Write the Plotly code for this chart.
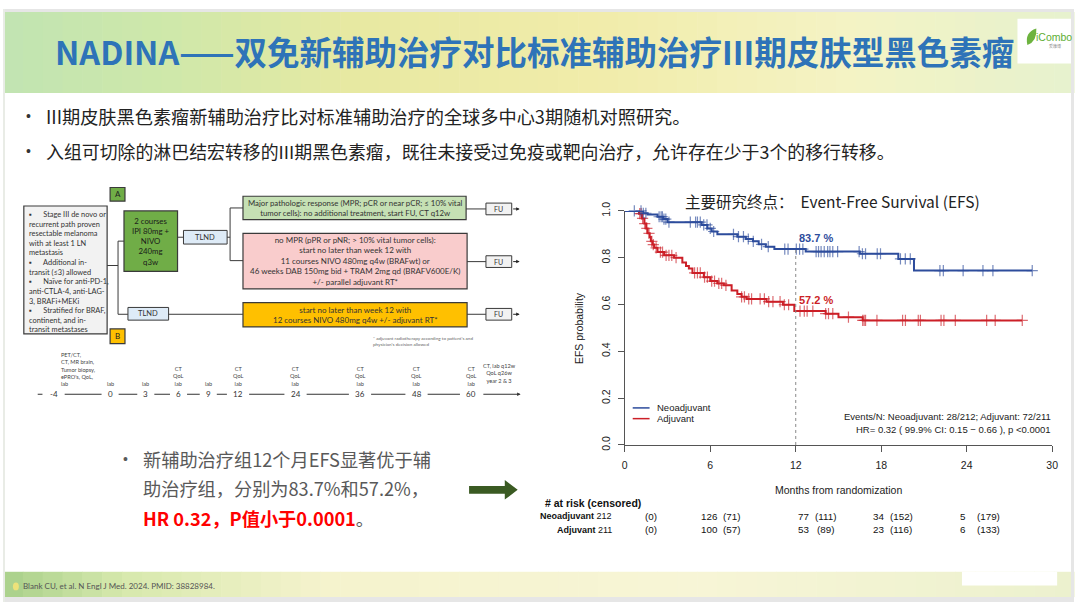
import numpy as np
import plotly.graph_objects as go

W, H = 1080, 608

# ---------------- data ----------------
months_ticks = [0, 6, 12, 18, 24, 30]
efs_ticks = [0.0, 0.2, 0.4, 0.6, 0.8, 1.0]

neo_event_months = [0, 1.3, 1.6, 2.3, 2.7, 3.0, 5.4, 5.8, 6.1, 6.5, 7.9, 8.5, 9.0, 9.4, 9.9, 10.5, 12.7, 16.5, 19.2, 20.3]
neo_efs = [1.0, 0.99, 0.985, 0.975, 0.965, 0.952, 0.94, 0.925, 0.912, 0.9, 0.89, 0.88, 0.87, 0.857, 0.847, 0.837, 0.826, 0.817, 0.795, 0.745]
neo_last_followup = 28.6
neo_censor_months = [0.67, 1.14, 1.3, 1.48, 2.41, 2.55, 2.64, 2.75, 2.88, 3.1, 4.6, 4.97, 5.1, 5.3, 5.54, 5.77,
                     6.0, 6.24, 7.63, 7.98, 8.33, 8.67, 9.02, 9.6, 10.07, 11.23, 11.46, 12.04, 12.27, 12.5, 13.43,
                     13.6, 13.78, 14.0, 14.24, 14.4, 14.6, 14.94, 16.45, 16.68, 16.9, 17.72, 17.95, 19.35, 19.69,
                     20.04, 22.12, 22.36, 23.75, 25.14, 25.84, 28.6]

adj_event_months = [0, 1.0, 1.2, 1.37, 1.5, 1.6, 1.75, 1.83, 1.95, 2.06, 2.3, 2.76, 3.46, 4.04, 4.3, 4.5, 4.75,
                    5.55, 6.0, 6.5, 6.95, 7.5, 7.9, 8.2, 8.56, 9.95, 11.1, 11.9, 14.1, 15.0, 16.7]
adj_efs = [1.0, 0.988, 0.968, 0.946, 0.925, 0.904, 0.888, 0.87, 0.856, 0.842, 0.824, 0.81, 0.80, 0.779, 0.765,
           0.754, 0.735, 0.717, 0.70, 0.69, 0.682, 0.66, 0.645, 0.633, 0.624, 0.612, 0.599, 0.572, 0.561, 0.546, 0.532]
adj_last_followup = 27.9
adj_censor_months = [1.05, 1.15, 1.25, 1.4, 1.55, 1.7, 1.9, 2.0, 2.2, 2.5, 2.65, 2.9, 3.1, 3.3, 3.6, 4.9, 5.1, 5.3,
                     5.6, 5.8, 6.1, 6.3, 6.6, 6.8, 7.1, 8.2, 8.4, 8.7, 8.9, 9.5, 9.8, 10.1, 10.4, 10.9, 11.2, 11.5,
                     12.3, 12.6, 12.8, 13.2, 14.1, 14.3, 14.6, 15.7, 16.7, 16.8, 16.9, 17.7, 19.5, 19.7, 20.6,
                     20.75, 22.2, 22.4, 23.2, 25.4, 26.0, 27.9]

landmark_month = 12
landmark_neo = 0.837
landmark_adj = 0.572
landmark_labels = ["83.7 %", "57.2 %"]

risk_n_neo = [212, 126, 77, 34, 5]
risk_c_neo = [0, 71, 111, 152, 179]
risk_n_adj = [211, 100, 53, 23, 6]
risk_c_adj = [0, 57, 89, 116, 133]

timeline_weeks = ["-4", "0", "3", "6", "9", "12", "24", "36", "48", "60"]
timeline_notes = ["", "lab", "lab", "CT<br>QoL<br>lab", "lab", "CT<br>QoL<br>lab", "CT<br>QoL<br>lab",
                  "CT<br>QoL<br>lab", "CT<br>QoL<br>lab", "CT<br>QoL<br>lab"]

# ---------------- styles ----------------
BLUE = "#2D4C9C"
RED = "#CC1F27"
CJK = "Noto Sans CJK SC"
ARIAL = "Liberation Sans"
LATO = "Lato"

shapes, ann = [], []


def X(x):
    return x / W


def Y(y):
    return 1 - y / H


def R(x0, y0, x1, y1, fill, line=None, lw=1, layer="above"):
    shapes.append(dict(type="rect", xref="paper", yref="paper", x0=X(x0), x1=X(x1), y0=Y(y1), y1=Y(y0),
                       fillcolor=fill, line=dict(color=line or fill, width=lw if line else 0), layer=layer))


def L(x0, y0, x1, y1, color="#404040", w=1, dash=None):
    shapes.append(dict(type="line", xref="paper", yref="paper", x0=X(x0), x1=X(x1), y0=Y(y0), y1=Y(y1),
                       line=dict(color=color, width=w, dash=dash)))


def T(x, y, s, size, color="#222", xa="center", ya="middle", fam=LATO, align=None):
    ann.append(dict(x=X(x), y=Y(y), xref="paper", yref="paper", text=s, showarrow=False, xanchor=xa,
                    yanchor=ya, font=dict(size=size, color=color, family=fam), align=align or xa,
                    borderpad=0))


def ARW(x0, y, x1, color="#222"):
    ann.append(dict(x=X(x1), y=Y(y), xref="paper", yref="paper", ax=x0 - x1, ay=0, text="", showarrow=True,
                    arrowhead=2, arrowsize=0.7, arrowwidth=1, arrowcolor=color))


def lerp(stops, x):
    for (p0, c0), (p1, c1) in zip(stops[:-1], stops[1:]):
        if p0 <= x <= p1:
            t = (x - p0) / (p1 - p0)
            return "rgb(%d,%d,%d)" % tuple(round(a + (b - a) * t) for a, b in zip(c0, c1))
    return "rgb(%d,%d,%d)" % stops[-1][1]


def grad(x0, x1, y0, y1, stops, n=54):
    step = (x1 - x0) / n
    for i in range(n):
        xa = x0 + i * step
        R(xa, y0, xa + step + 0.6, y1, lerp(stops, xa + step / 2), layer="below")


# ---------------- slide background ----------------
R(0, 0, W, H, "white", layer="below")
grad(0, W, 3, 86, [(0, (193, 228, 178)), (160, (206, 232, 170)), (360, (232, 233, 162)),
                    (600, (241, 236, 170)), (850, (244, 243, 196)), (1080, (230, 242, 206))])
grad(0, W, 577, 603, [(0, (168, 208, 138)), (120, (214, 232, 172)), (320, (245, 243, 205)),
                       (700, (247, 245, 214)), (1080, (236, 241, 206))])
R(967, 577, 1063, 591, "white", layer="below")
R(0, 0, W, 3, "#E6E6E6", layer="below")
R(0, 603, W, H, "#E6E6E6", layer="below")
R(0, 0, 2, H, "#E9ECE6", layer="below")
R(1077, 0, W, H, "#E6E6E6", layer="below")
shapes.append(dict(type="circle", xref="paper", yref="paper", x0=X(10), x1=X(16), y0=Y(596), y1=Y(588),
                   fillcolor="#EDE27A", line=dict(width=0)))

# logo
R(1023, 10, 1077, 56, "white")
shapes.append(dict(type="path", xref="paper", yref="paper",
                   path="M %f,%f Q %f,%f %f,%f Q %f,%f %f,%f Z" % (
                       X(1033), Y(37), X(1030), Y(24), X(1042), Y(20), X(1043), Y(33), X(1033), Y(37)),
                   fillcolor="#6DB33F", line=dict(width=0)))
T(1060, 29, "iCombo", 10.5, "#5DAE34", fam=ARIAL)
T(1061, 38, "爱康博", 4, "#888", fam=CJK)

# header title
T(536, 43, "<b>NADINA——双免新辅助治疗对比标准辅助治疗III期皮肤型黑色素瘤</b>", 32.5, "#2E73B8", fam=CJK)

# top bullets
T(22, 110, "•", 14, "#333", xa="left", fam=ARIAL)
T(42, 110, "III期皮肤黑色素瘤新辅助治疗比对标准辅助治疗的全球多中心3期随机对照研究。", 18.2, "#222", xa="left", fam=CJK)
T(22, 146, "•", 14, "#333", xa="left", fam=ARIAL)
T(42, 146, "入组可切除的淋巴结宏转移的III期黑色素瘤，既往未接受过免疫或靶向治疗，允许存在少于3个的移行转移。", 17.9,
  "#222", xa="left", fam=CJK)

# bottom-left bullet
T(120, 461, "•", 14, "#595959", xa="left", fam=ARIAL)
T(140, 461, "新辅助治疗组12个月EFS显著优于辅", 18.2, "#595959", xa="left", fam=CJK)
T(140, 491, "助治疗组，分别为83.7%和57.2%，", 18.2, "#595959", xa="left", fam=CJK)
T(140, 522, "<b><span style='color:#FF0000'>HR 0.32，P值小于0.0001</span></b>。", 18.2, "#595959", xa="left",
  fam=CJK)

# green arrow
shapes.append(dict(type="path", xref="paper", yref="paper",
                   path="M %f,%f L %f,%f L %f,%f L %f,%f L %f,%f L %f,%f L %f,%f Z" % (
                       X(470), Y(489), X(506), Y(489), X(506), Y(483), X(519), Y(493),
                       X(506), Y(503), X(506), Y(497), X(470), Y(497)),
                   fillcolor="#3A5A22", line=dict(width=0)))

# citation
T(19, 592, "Blank CU, et al. N Engl J Med. 2024. PMID: 38828984.", 8, "#555", xa="left", fam=LATO)

# ---------------- flowchart ----------------
BR = "#3A3A3A"
R(108, 183, 123, 197, "#70AD47", BR, 1.2)
T(115.5, 190, "A", 8, "#222")
R(108, 328, 123, 343, "#FFC000", BR, 1.2)
T(115.5, 335.5, "B", 8, "#222")
R(21, 202, 105, 333, "#F2F2F2", BR, 1.2)
NB = "\u00a0"
gray_lines = [
    "▪" + NB * 6 + "Stage III de novo or", "recurrent path proven", "resectable melanoma", "with at least 1 LN",
    "metastasis", "▪" + NB * 6 + "Additional in-", "transit (≤3) allowed", "▪" + NB * 6 + "Naïve for anti-PD-1,",
    "anti-CTLA-4, anti-LAG-", "3, BRAFi+MEKi", "▪" + NB * 6 + "Stratified for BRAF,", "continent, and in-",
    "transit metastases"]
T(25, 205, "<br>".join(gray_lines), 7.4, "#333", xa="left", ya="top")
R(122, 207, 176, 269, "#70AD47", BR, 1.2)
T(149, 238, "2 courses<br>IPI 80mg +<br>NIVO<br>240mg<br>q3w", 7.8, "#1A1A1A")
R(182, 227, 226, 241, "#DEEBF7", BR, 1)
T(204, 234, "TLND", 7.5, "#333")
R(126, 306, 167, 319, "#DEEBF7", BR, 1)
T(146.5, 312.5, "TLND", 7.5, "#333")
R(242, 192, 467, 216, "#C5E0B4", BR, 1.2)
T(355, 204, "Major pathologic response (MPR; pCR or near pCR; ≤ 10% vital<br>tumor cells): no additional treatment, start FU, CT q12w",
  7.8, "#333")
R(242, 230, 468, 287, "#F9CCCC", BR, 1.2)
T(355, 258.5, "no MPR (pPR or pNR; > 10% vital tumor cells):<br>start no later than week 12 with<br>"
              "11 courses NIVO 480mg q4w (BRAFwt) or<br>46 weeks DAB 150mg bid + TRAM 2mg qd (BRAFV600E/K)<br>"
              "+/- parallel adjuvant RT*", 8, "#333")
R(242, 301, 468, 326, "#FFC000", BR, 1.2)
T(355, 313.5, "start no later than week 12 with<br>12 courses NIVO 480mg q4w +/- adjuvant RT*", 8, "#333")
for fy in (199, 253, 307):
    R(487, fy, 513, fy + 12, "#F2F2F2", BR, 1)
    T(500, fy + 6, "FU", 7, "#333")
    ARW(513, fy + 6, 521, "#222")
L(105, 263, 116, 263, BR)
L(116, 238, 116, 313, BR)
L(116, 238, 122, 238, BR)
L(116, 313, 126, 313, BR)
L(176, 234, 182, 234, BR)
L(226, 234, 229, 234, BR)
L(229, 204, 229, 258, BR)
L(229, 204, 242, 204, BR)
L(229, 258, 242, 258, BR)
L(467, 205, 487, 205, BR)
L(468, 259, 487, 259, BR)
L(468, 313, 487, 313, BR)
L(167, 313, 242, 313, BR)
T(372, 333, "* adjuvant radiotherapy according to patient's and<br>physician's decision allowed", 4.6, "#666",
  xa="left", ya="top")

# timeline
tl_x = [51, 108, 144, 177, 207, 237, 295, 360, 417, 472]
tl_y = 395
prev = 35
for lab, xc, note in zip(timeline_weeks, tl_x, timeline_notes):
    hw = 2.6 * len(lab) + 6
    L(prev, tl_y, xc - hw, tl_y, "#333", 1)
    T(xc, tl_y, lab, 8, "#333")
    if note:
        T(xc, 389, note, 5.6, "#444", ya="bottom")
    prev = xc + hw
ARW(prev, tl_y, 522, "#333")
T(57, 389, "PET/CT,<br>CT, MR brain,<br>Tumor biopsy,<br>ePRO's, QoL,<br>lab", 5.6, "#444", xa="left",
  ya="bottom")
T(501, 386, "CT, lab q12w<br>QoL q26w<br>year 2 & 3", 5.6, "#444", ya="bottom")


# ---------------- Kaplan-Meier ----------------
def efs_at(times, surv, t):
    idx = np.searchsorted(np.asarray(times), t, side="right") - 1
    return np.asarray(surv)[idx]


fig = go.Figure()
for times, surv, last, cens, col, name in [
    (adj_event_months, adj_efs, adj_last_followup, adj_censor_months, RED, "Adjuvant"),
    (neo_event_months, neo_efs, neo_last_followup, neo_censor_months, BLUE, "Neoadjuvant")]:
    fig.add_trace(go.Scatter(x=list(times) + [last], y=list(surv) + [surv[-1]], mode="lines",
                             line=dict(color=col, width=2, shape="hv"), cliponaxis=False, name=name,
                             hoverinfo="skip"))
    fig.add_trace(go.Scatter(x=cens, y=efs_at(times, surv, cens), mode="markers", cliponaxis=False,
                             marker=dict(symbol="cross-thin", size=8, opacity=0.65,
                                         line=dict(color=col, width=1.2)), hoverinfo="skip"))

shapes.append(dict(type="line", xref="x", yref="y", x0=landmark_month, x1=landmark_month, y0=0,
                   y1=landmark_neo, line=dict(color="#888", width=1, dash="dot")))
ann.append(dict(x=13.4, y=landmark_neo + 0.046, xref="x", yref="y", text="<b>%s</b>" % landmark_labels[0],
                showarrow=False, font=dict(size=11, color=BLUE, family=ARIAL)))
ann.append(dict(x=13.4, y=landmark_adj + 0.048, xref="x", yref="y", text="<b>%s</b>" % landmark_labels[1],
                showarrow=False, font=dict(size=11, color=RED, family=ARIAL)))

T(836, 197, "主要研究终点：  Event-Free Survival (EFS)", 15.5, "#222", fam=CJK)
ann.append(dict(x=X(581), y=Y(327), xref="paper", yref="paper", text="EFS probability", textangle=-90,
                showarrow=False, font=dict(size=10.5, color="#222", family=ARIAL)))
T(843, 493, "Months from randomization", 10.5, "#222", fam=ARIAL)

# legend
L(635, 409, 652, 409, BLUE, 1.5)
L(635, 420, 652, 420, RED, 1.5)
T(658, 409, "Neoadjuvant", 9.5, "#222", xa="left", fam=ARIAL)
T(658, 420, "Adjuvant", 9.5, "#222", xa="left", fam=ARIAL)
T(1058, 418, "Events/N: Neoadjuvant: 28/212; Adjuvant: 72/211", 9.5, "#222", xa="right", fam=ARIAL)
T(1058, 431, "HR= 0.32 ( 99.9% CI: 0.15 − 0.66 ), p <0.0001", 9.5, "#222", xa="right", fam=ARIAL)

# risk table
T(546, 506, "<b># at risk (censored)</b>", 10.5, "#111", xa="left", fam=ARIAL)
n_x = [None, 712, 807, 883, 968]
c_x = [653, 735, 829, 906, 994]
for row_y, label, ns, cs in [(520, "Neoadjuvant", risk_n_neo, risk_c_neo),
                             (534, "Adjuvant", risk_n_adj, risk_c_adj)]:
    T(615, row_y, "<b>%s</b> %d" % (label, ns[0]), 9, "#111", xa="right", fam=ARIAL)
    for k in range(1, len(ns)):
        T(n_x[k], row_y, str(ns[k]), 9.8, "#111", fam=ARIAL)
    for k in range(len(cs)):
        T(c_x[k], row_y, "(%d)" % cs[k], 9.8, "#111", fam=ARIAL)

fig.update_layout(
    width=W, height=H, margin=dict(l=0, r=0, t=0, b=0),
    paper_bgcolor="white", plot_bgcolor="rgba(0,0,0,0)", showlegend=False,
    shapes=shapes, annotations=ann,
    xaxis=dict(domain=[X(627), X(1058)], range=[0, 30], tickvals=months_ticks, showgrid=False,
               zeroline=False, showline=True, linecolor="#555", linewidth=1, ticks="outside", ticklen=6,
               tickcolor="#555", tickfont=dict(size=10.5, color="#222", family=ARIAL), ticklabelstandoff=4),
    yaxis=dict(domain=[Y(447), Y(207)], range=[0, 1], tickvals=efs_ticks, tickformat=".1f",
               showgrid=False, zeroline=False, showline=True, linecolor="#555", linewidth=1, ticks="outside",
               ticklen=6, tickcolor="#555", tickangle=-90, tickfont=dict(size=10.5, color="#222", family=ARIAL),
               ticklabelstandoff=4),
)

fig.write_html("out.html")
